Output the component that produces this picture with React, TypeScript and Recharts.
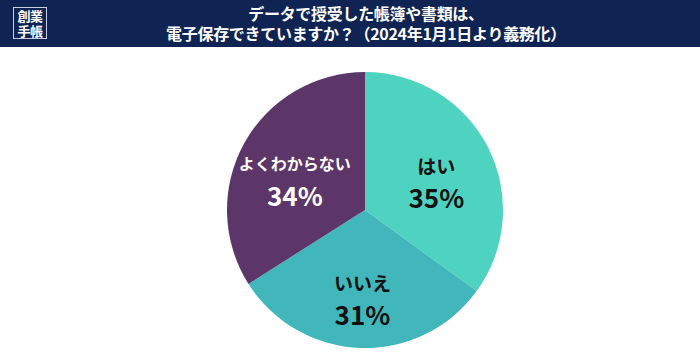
import { PieChart, Pie, Cell } from 'recharts';

const categories = ['はい', 'いいえ', 'よくわからない'];
const values = [35, 31, 34];
const colors = ['#4dd3c0', '#41b6bb', '#5d3669'];
const labelColors = ['#111111', '#111111', '#ffffff'];

const titleLines = ['データで授受した帳簿や書類は、', '電子保存できていますか？（2024年1月1日より義務化）'];
const logoLines = ['創業', '手帳'];

const FONT = '"Noto Sans CJK JP", "Noto Sans", sans-serif';
const RADIAN = Math.PI / 180;

const data = categories.map((name, i) => ({ name, value: values[i] }));

function SliceLabel(props: any) {
  const { cx, cy, midAngle, outerRadius, index } = props;
  const r = outerRadius * 0.58;
  const x = cx + r * Math.cos(-midAngle * RADIAN);
  const y = cy + r * Math.sin(-midAngle * RADIAN);
  const fill = labelColors[index];
  return (
    <g>
      <text x={x} y={y - 8} textAnchor="middle" dominantBaseline="central" fill={fill}
        fontFamily={FONT} fontWeight={700} fontSize={index === 2 ? 16 : 19}>
        {categories[index]}
      </text>
      <text x={x} y={y + 23} textAnchor="middle" dominantBaseline="central" fill={fill}
        fontFamily={FONT} fontWeight={700} fontSize={26}>
        {values[index]}%
      </text>
    </g>
  );
}

export default function App() {
  return (
    <div style={{ position: 'relative', width: 700, height: 356, background: '#fff', fontFamily: FONT }}>
      <style>{'body{margin:0}'}</style>
      <div style={{ position: 'absolute', left: 0, top: 0, width: 700, height: 47, background: '#0f2453' }}>
        <div style={{
          position: 'absolute', left: 13, top: 7, width: 32, height: 30, border: '1px solid #c8d0e0',
        }}>
          {logoLines.map((t, i) => (
            <div key={i} style={{
              position: 'absolute', left: 0, width: 32, top: i === 0 ? 1 : 16, textAlign: 'center',
              color: '#fff', fontSize: 13, fontWeight: 700, lineHeight: '13px', letterSpacing: -0.5,
            }}>{t}</div>
          ))}
        </div>
        {titleLines.map((t, i) => (
          <div key={i} style={{
            position: 'absolute', left: 0, width: 732, top: i === 0 ? 5 : 25, textAlign: 'center',
            color: '#fff', fontSize: 16, fontWeight: 700, lineHeight: '17px', letterSpacing: -0.3,
          }}>{t}</div>
        ))}
      </div>
      <div style={{ position: 'absolute', left: 0, top: 0 }}>
        <PieChart width={700} height={356} margin={{ top: 0, right: 0, bottom: 0, left: 0 }}>
          <Pie data={data} dataKey="value" nameKey="name" cx={365} cy={210} outerRadius={138}
            startAngle={90} endAngle={-270} stroke="none" isAnimationActive={false}
            labelLine={false} label={SliceLabel}>
            {data.map((d, i) => <Cell key={d.name} fill={colors[i]} />)}
          </Pie>
        </PieChart>
      </div>
    </div>
  );
}
